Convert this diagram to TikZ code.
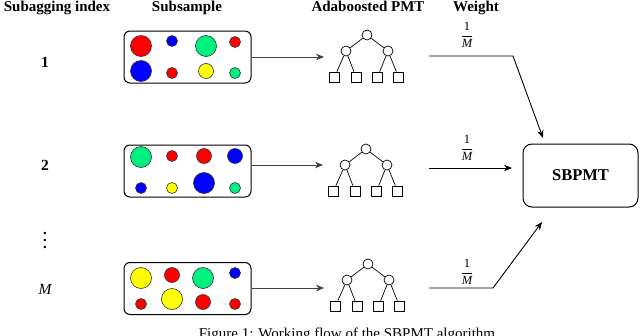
\documentclass[tikz,border=0pt]{standalone}
\usepackage{fontspec}
\setmainfont{Liberation Serif}
\usepackage{amsmath}
\usetikzlibrary{arrows.meta}
\definecolor{cred}{RGB}{255,0,0}
\definecolor{cblue}{RGB}{0,0,255}
\definecolor{cgreen}{RGB}{0,240,128}
\definecolor{cyellow}{RGB}{255,255,0}
\newcommand{\myvdots}{\vbox{\baselineskip7pt\lineskiplimit-10pt\lineskip0pt\hbox{.}\hbox{.}\hbox{.}}}
\begin{document}
\begin{tikzpicture}[x=1pt,y=-1pt,
  hdr/.style={font=\fontsize{15}{18}\selectfont\bfseries, anchor=base, inner sep=0},
  lbl/.style={font=\fontsize{15.5}{18}\selectfont\bfseries, anchor=base, inner sep=0},
  sbox/.style={draw, line width=1pt, rounded corners=6pt, minimum width=127pt, minimum height=52pt, inner sep=0},
  ball/.style={circle, draw=black!80, line width=0.6pt, inner sep=0},
  big/.style={ball, minimum size=21pt},
  mid/.style={ball, minimum size=15pt},
  sml/.style={ball, minimum size=11pt},
  tnode/.style={circle, draw, fill=white, line width=0.7pt, minimum size=10pt, inner sep=0},
  leaf/.style={draw, fill=white, line width=0.7pt, minimum size=10pt, inner sep=0},
  tedge/.style={line width=0.7pt},
  arr/.style={-{Stealth[length=8pt,width=6.5pt]}, line width=0.9pt},
  wfrac/.style={font=\fontsize{12.5}{14}\selectfont, inner sep=0},
]
\useasboundingbox (0,0) rectangle (640,335);
\clip (0,0) rectangle (640,335);

% headers
\node[hdr] (h1) at (57,11.5) {Subagging index};
\node[hdr] (h2) at (187,11.5) {Subsample};
\node[hdr] (h3) at (368,11.5) {Adaboosted PMT};
\node[hdr] (h4) at (476,11.5) {Weight};

% row labels
\node[lbl] (idx1) at (45,67) {1};
\node[lbl] (idx2) at (45,170) {2};
\node[font=\fontsize{15}{18}\selectfont\bfseries, inner sep=0] (dots) at (45,240.7) {\myvdots};
\node[font=\fontsize{15.5}{18}\selectfont\itshape, anchor=base, inner sep=0] (idxM) at (45,294) {M};

% subsample boxes
\node[sbox] (box1) at (187.5,57) {};
\node[sbox] (box2) at (187.5,171) {};
\node[sbox] (box3) at (187.5,288.5) {};

% balls
\foreach \x/\y/\s/\c [count=\k] in {
  141/46/big/cred, 172/41/sml/cblue, 206/46/big/cgreen, 235/42/sml/cred,
  141/71/big/cblue, 172/73/sml/cred, 206/71/mid/cyellow, 235/73/sml/cgreen,
  141/157/big/cgreen, 172/156/sml/cred, 204/156/mid/cred, 235/156/mid/cblue,
  141/188/sml/cblue, 172/188/sml/cyellow, 204/183/big/cblue, 235/188/sml/cgreen,
  141/278/big/cyellow, 172/275/mid/cred, 203/278/big/cgreen, 235/273/sml/cblue,
  141/304/sml/cred, 172/299/big/cyellow, 203/302/mid/cred, 235/304/sml/cred}
  \node[\s, fill=\c] (ball\k) at (\x,\y) {};

% trees
\foreach \i/\x/\y in {1/367/35, 2/366/149, 3/368/264} {
  \node[tnode] (r\i) at (\x,\y) {};
  \node[tnode] (a\i) at (\x-21,\y+16) {};
  \node[tnode] (b\i) at (\x+21,\y+16) {};
  \node[leaf] (la\i) at (\x-32.5,\y+42) {};
  \node[leaf] (lb\i) at (\x-11,\y+42) {};
  \node[leaf] (lc\i) at (\x+10.5,\y+42) {};
  \node[leaf] (ld\i) at (\x+31.5,\y+42) {};
  \draw[tedge] (r\i) -- (a\i);
  \draw[tedge] (r\i) -- (b\i);
  \draw[tedge] (a\i) -- (la\i);
  \draw[tedge] (a\i) -- (lb\i);
  \draw[tedge] (b\i) -- (lc\i);
  \draw[tedge] (b\i) -- (ld\i);
}

% arrows box -> tree
\coordinate (t1in) at (324,57);
\coordinate (t2in) at (323,165);
\coordinate (t3in) at (324,288);
\draw[arr, draw=black!75] (box1.east |- t1in) -- (t1in);
\draw[arr, draw=black!75] (box2.east |- t2in) -- (t2in);
\draw[arr, draw=black!75] (box3.east |- t3in) -- (t3in);

% SBPMT
\node[draw, line width=1pt, rounded corners=9pt, minimum width=115pt, minimum height=63pt, inner sep=0,
      font=\fontsize{16.5}{19}\selectfont\bfseries] (sb) at (580.5,175.5) {SBPMT};

% weights
\coordinate (w1) at (429,56);
\coordinate (w1b) at (513,56);
\coordinate (sbin1) at (543,138);
\coordinate (w2) at (429,168);
\coordinate (sbin2) at (512,168);
\coordinate (w3) at (429,288);
\coordinate (w3b) at (493,288);
\coordinate (sbin3) at (542,222);
\draw[arr] (w1) -- (w1b) -- (sbin1);
\draw[arr] (w2) -- (sbin2);
\draw[arr] (w3) -- (w3b) -- (sbin3);
\node[wfrac] (f1) at (467,35) {$\dfrac{\text{1}}{\textit{M}}$};
\node[wfrac] (f2) at (467,148) {$\dfrac{\text{1}}{\textit{M}}$};
\node[wfrac] (f3) at (467,272) {$\dfrac{\text{1}}{\textit{M}}$};

% caption (cut off at bottom edge, as in the reference)
\node[font=\fontsize{15}{18}\selectfont, anchor=base, inner sep=0] (cap) at (347,338.5) {Figure 1: Working flow of the SBPMT algorithm};
\end{tikzpicture}
\end{document}
